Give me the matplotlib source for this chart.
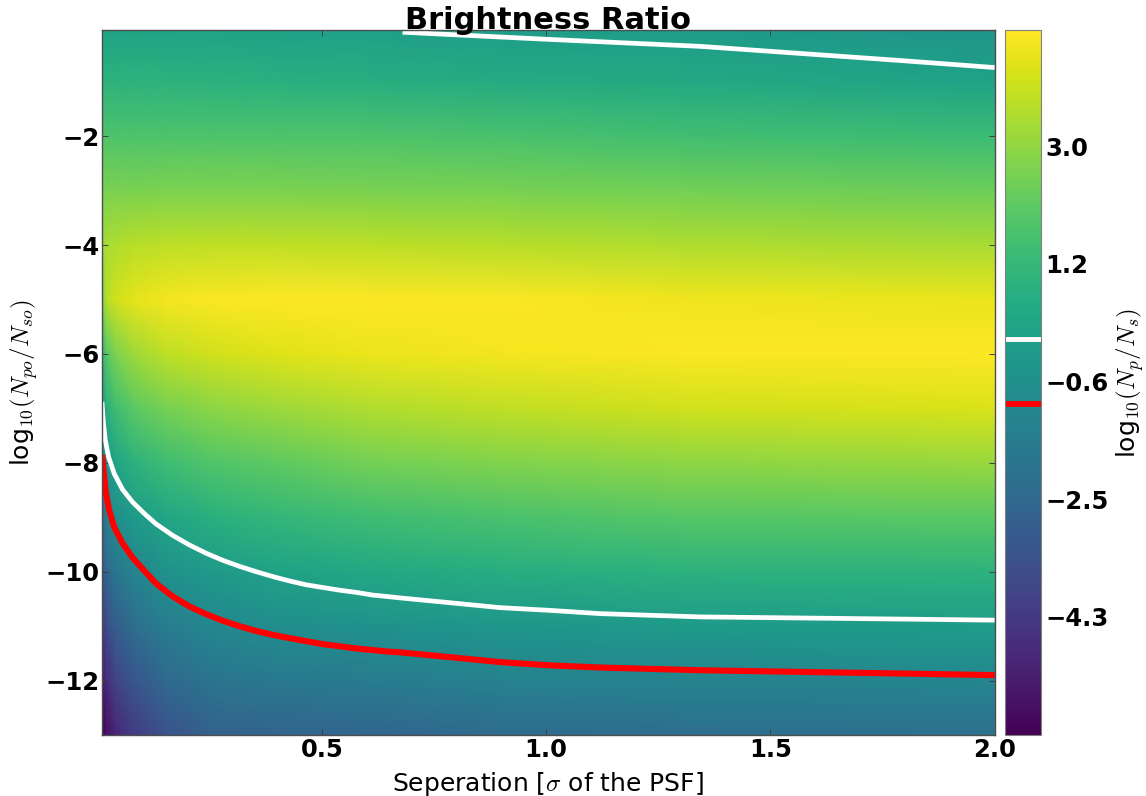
import matplotlib
matplotlib.use("Agg")
import matplotlib.pyplot as plt
import numpy as np

plt.rcParams["mathtext.fontset"] = "cm"

# grid nodes of the map (separation in PSF sigma, log10 N_po/N_so)
sep_nodes = [0.01, 0.02, 0.04, 0.08, 0.15, 0.25, 0.4, 0.6, 0.9, 1.3, 2.0]
lognpo_nodes = [-0.05, -1, -2, -3, -4, -5, -6, -7, -8, -9, -10, -11, -12, -13]

# log10(N_p/N_s), one row per lognpo node
log_ratio = [
    [0.20, 0.20, 0.20, 0.20, 0.20, 0.17, 0.10, 0.03, -0.07, -0.15, -0.45],
    [0.90, 0.88, 0.88, 0.88, 0.88, 0.85, 0.80, 0.70, 0.55, 0.45, 0.18],
    [1.80, 1.75, 1.75, 1.75, 1.75, 1.75, 1.75, 1.72, 1.65, 1.50, 1.30],
    [2.60, 2.60, 2.60, 2.60, 2.65, 2.65, 2.65, 2.60, 2.55, 2.45, 2.35],
    [3.20, 3.40, 3.50, 3.60, 3.70, 3.75, 3.75, 3.70, 3.60, 3.50, 3.35],
    [2.50, 3.60, 4.00, 4.35, 4.60, 4.70, 4.75, 4.75, 4.70, 4.55, 4.40],
    [0.95, 1.90, 2.60, 3.20, 3.70, 4.00, 4.25, 4.45, 4.60, 4.72, 4.75],
    [-0.10, 0.77, 1.40, 2.00, 2.50, 2.90, 3.20, 3.50, 3.75, 4.00, 4.15],
    [-1.16, -0.33, 0.26, 0.85, 1.35, 1.80, 2.10, 2.45, 2.70, 2.95, 3.10],
    [-2.20, -1.43, -0.79, -0.20, 0.30, 0.75, 1.10, 1.40, 1.65, 1.90, 2.00],
    [-3.25, -2.53, -1.84, -1.20, -0.64, -0.21, 0.15, 0.40, 0.66, 0.85, 0.90],
    [-4.30, -3.63, -2.90, -2.20, -1.55, -1.07, -0.79, -0.59, -0.34, -0.18, -0.11],
    [-5.36, -4.73, -3.94, -3.20, -2.45, -1.92, -1.72, -1.57, -1.34, -1.20, -1.10],
    [-6.10, -5.70, -5.00, -4.20, -3.36, -2.78, -2.65, -2.55, -2.34, -2.22, -2.10],
]
vmin, vmax = -6.11, 4.78

# contour log10(N_p/N_s) = 0, upper branch
top0_x = [0.68, 1.00, 1.343, 1.566, 1.789, 2.00]
top0_y = [-0.09, -0.22, -0.35, -0.48, -0.61, -0.74]
# contour = 0, lower branch
low0_x = [0.010, 0.0127, 0.0172, 0.0246, 0.0373, 0.0558, 0.078, 0.104, 0.130,
          0.167, 0.205, 0.242, 0.279, 0.316, 0.354, 0.391, 0.428, 0.465, 0.502,
          0.540, 0.577, 0.614, 0.651, 0.673, 0.786, 0.897, 1.008, 1.120, 1.231,
          1.343, 1.566, 1.789, 2.00]
low0_y = [-6.88, -7.22, -7.58, -7.89, -8.20, -8.49, -8.72, -8.93, -9.12,
          -9.33, -9.51, -9.66, -9.79, -9.90, -10.00, -10.09, -10.17, -10.24, -10.29,
          -10.34, -10.38, -10.43, -10.46, -10.48, -10.57, -10.66, -10.71, -10.77, -10.80,
          -10.83, -10.85, -10.87, -10.89]
# contour = -1
m1_x = [0.010, 0.015, 0.0187, 0.026, 0.037, 0.056, 0.078, 0.104, 0.131,
        0.167, 0.205, 0.242, 0.279, 0.316, 0.354, 0.391, 0.428, 0.502, 0.577,
        0.651, 0.673, 0.786, 0.897, 1.008, 1.120, 1.343, 1.566, 1.789, 2.00]
m1_y = [-7.85, -8.26, -8.56, -8.87, -9.18, -9.48, -9.74, -9.98, -10.22,
        -10.45, -10.64, -10.78, -10.90, -11.00, -11.09, -11.16, -11.22, -11.33, -11.41,
        -11.47, -11.48, -11.57, -11.66, -11.72, -11.76, -11.81, -11.84, -11.87, -11.90]

contour_levels = [0.0, -1.0]
contour_colors = ["white", "red"]

xticks = [0.5, 1.0, 1.5, 2.0]
yticks = [-2, -4, -6, -8, -10, -12]
cbar_ticks = [-4.283, -2.467, -0.65, 1.167, 2.983]
cbar_ticklabels = ["\u22124.3", "\u22122.5", "\u22120.6", "1.2", "3.0"]

fig = plt.figure(figsize=(11.46, 7.96), dpi=100)
ax = fig.add_axes([0.089, 0.0766, 0.779, 0.8857])
cax = fig.add_axes([0.877, 0.0766, 0.0314, 0.8857])

mesh = ax.pcolormesh(sep_nodes, lognpo_nodes, np.array(log_ratio),
                     shading="gouraud", cmap="viridis", vmin=vmin, vmax=vmax,
                     rasterized=True)
ax.plot(top0_x, top0_y, color="white", lw=3.4, solid_capstyle="butt",
        solid_joinstyle="round")
ax.plot(low0_x, low0_y, color="white", lw=3.4, solid_capstyle="butt",
        solid_joinstyle="round")
ax.plot(m1_x, m1_y, color="red", lw=4.4, solid_capstyle="butt",
        solid_joinstyle="round")

ax.set_xlim(0.01, 2.0)
ax.set_ylim(-13, -0.05)
ax.set_xticks(xticks)
ax.set_xticklabels([f"{t:.1f}" for t in xticks])
ax.set_yticks(yticks)
ax.set_yticklabels([f"\u2212{abs(t)}" for t in yticks])
ax.tick_params(direction="in", top=True, right=True, length=4, width=0.7,
               color="0.25", labelsize=17.5, pad=2)
for lab in ax.get_xticklabels() + ax.get_yticklabels():
    lab.set_fontweight("bold")
for sp in ax.spines.values():
    sp.set_color("0.3")
    sp.set_linewidth(1.0)

ax.set_title("Brightness Ratio", fontsize=22, fontweight="bold", pad=1)
ax.set_xlabel(r"Seperation [$\sigma$ of the PSF]", fontsize=18, labelpad=6)
ax.set_ylabel(r"log$_{10}(N_{po}/N_{so})$", fontsize=18, labelpad=4)

cbar = fig.colorbar(mesh, cax=cax, ticks=cbar_ticks)
cbar.ax.set_yticklabels(cbar_ticklabels)
cbar.ax.tick_params(length=0, labelsize=17.5, pad=3)
for lab in cbar.ax.get_yticklabels():
    lab.set_fontweight("bold")
cbar.outline.set_edgecolor("0.5")
cbar.add_lines(contour_levels, contour_colors, [3.5, 4.2])
cbar.set_label(r"log$_{10}(N_p/N_s)$", fontsize=18, labelpad=4)

fig.savefig("out.png", dpi=100)
